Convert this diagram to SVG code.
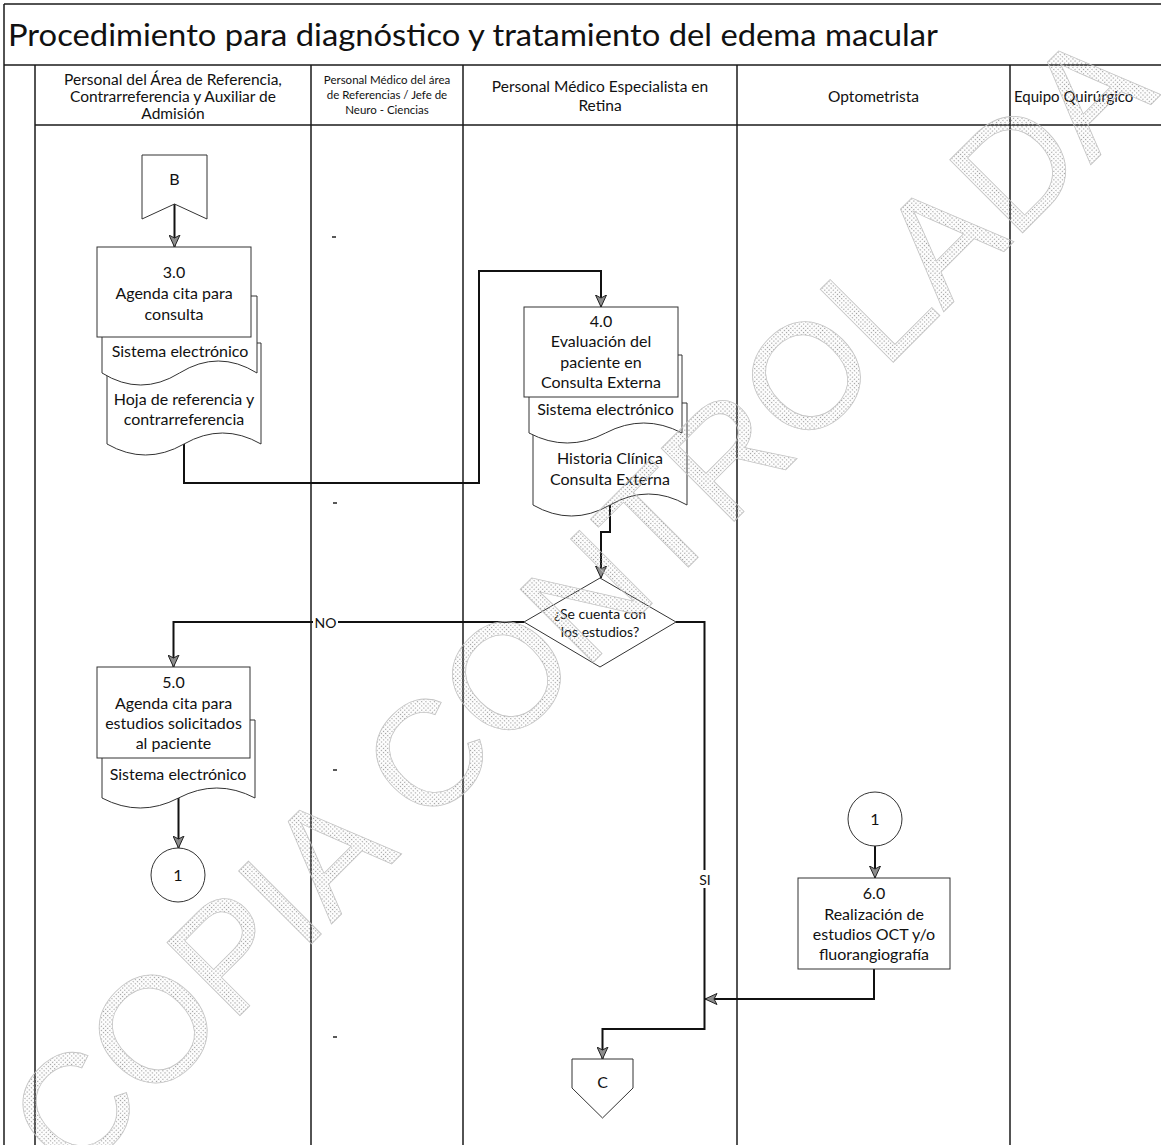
<svg xmlns="http://www.w3.org/2000/svg" width="1161" height="1145" viewBox="0 0 1161 1145">
<defs>
<marker id="ah" markerUnits="userSpaceOnUse" markerWidth="13" markerHeight="12" viewBox="0 0 13 12" refX="12.5" refY="6" orient="auto">
<path d="M0.5,0.5 L12.5,6 L0.5,11.5 L3.5,6 Z" fill="#8c8c8c" stroke="#222" stroke-width="1"/>
</marker>
<pattern id="dots" width="3" height="3" patternUnits="userSpaceOnUse"><rect width="1.2" height="1.2" fill="#9c9c9c"/></pattern>
<style>
.frame{stroke:#1a1a1a;stroke-width:1.5;fill:none}
.lane{stroke:#1a1a1a;stroke-width:1.5;fill:none}
.shape{fill:#fff;stroke:#333;stroke-width:1}
.conn{fill:none;stroke:#111;stroke-width:2}
.arr{marker-end:url(#ah)}
text{font-family:Lato,"Open Sans","Liberation Sans",sans-serif;fill:#111}
.t{font-size:16px;text-anchor:middle}
.h{font-size:15.5px;text-anchor:middle}
.hs{font-size:11.5px;text-anchor:middle}
.lbl{font-size:14px;text-anchor:middle}
.tick{stroke:#222;stroke-width:1.5}
.wm{font-family:"Liberation Sans",sans-serif;font-size:150px;text-anchor:middle;fill:url(#dots);stroke:#c4c4c4;stroke-width:0.8}
</style>
</defs>
<rect width="1161" height="1145" fill="#fff"/>

<g id="frame">
<line class="frame" x1="4" y1="4" x2="1161" y2="4"/>
<line class="frame" x1="4" y1="4" x2="4" y2="1145"/>
<line class="frame" x1="4" y1="65" x2="1161" y2="65"/>
<line class="frame" x1="35" y1="125" x2="1161" y2="125"/>
<line class="lane" x1="35" y1="65" x2="35" y2="1145"/>
<line class="lane" x1="311" y1="65" x2="311" y2="1145"/>
<line class="lane" x1="463" y1="65" x2="463" y2="1145"/>
<line class="lane" x1="737" y1="65" x2="737" y2="1145"/>
<line class="lane" x1="1010" y1="65" x2="1010" y2="1145"/>
<text x="8" y="46" font-size="30" textLength="930" lengthAdjust="spacingAndGlyphs">Procedimiento para diagnóstico y tratamiento del edema macular</text>
</g>

<g id="headers">
<text class="h" x="173" y="85">Personal del Área de Referencia,</text>
<text class="h" x="173" y="102">Contrarreferencia y Auxiliar de</text>
<text class="h" x="173" y="119">Admisión</text>
<text class="hs" x="387" y="84">Personal Médico del área</text>
<text class="hs" x="387" y="99">de Referencias / Jefe de</text>
<text class="hs" x="387" y="114">Neuro - Ciencias</text>
<text class="h" x="600" y="92">Personal Médico Especialista en</text>
<text class="h" x="600" y="111">Retina</text>
<text class="h" x="873.5" y="102">Optometrista</text>
<text x="1014" y="102" font-size="15">Equipo Quirúrgico</text>
</g>

<g id="ticks">
<line class="tick" x1="332" y1="237" x2="336" y2="237"/>
<line class="tick" x1="333" y1="503" x2="337" y2="503"/>
<line class="tick" x1="333" y1="770" x2="337" y2="770"/>
<line class="tick" x1="333" y1="1037" x2="337" y2="1037"/>
</g>

<g id="connectors">
<line class="conn arr" x1="174.5" y1="204" x2="174.5" y2="247"/>
<polyline class="conn arr" points="184,444 184,483 479,483 479,271 601,271 601,307"/>
<polyline class="conn arr" points="610,505 610,532 601,532 601,578"/>
<polyline class="conn arr" points="524,622 173.5,622 173.5,667"/>
<line class="conn arr" x1="178.5" y1="798" x2="178.5" y2="848"/>
<line class="conn arr" x1="875" y1="846" x2="875" y2="878"/>
<polyline class="conn arr" points="874,969 874,999 705,999"/>
<polyline class="conn arr" points="676,622 704.5,622 704.5,1029 602.5,1029 602.5,1059"/>
<rect x="313" y="613" width="25" height="18" fill="#fff"/>
<text class="lbl" x="325.5" y="628">NO</text>
<rect x="697" y="870" width="16" height="18" fill="#fff"/>
<text class="lbl" x="705" y="885">SI</text>
</g>

<g id="node-B">
<path class="shape" d="M142,155 H207 V219 L174.5,204 L142,219 Z"/>
<text class="t" x="174.5" y="185">B</text>
</g>

<g id="node-3">
<path class="shape" d="M107,343 H261 V444 Q222.5,422 184,444 T107,444 Z"/>
<text class="t" x="184" y="405">Hoja de referencia y</text>
<text class="t" x="184" y="425">contrarreferencia</text>
<path class="shape" d="M102,296 H257 V373 Q218.25,349 179.5,373 T102,373 Z"/>
<text class="t" x="180" y="356.5">Sistema electrónico</text>
<rect class="shape" x="97" y="247" width="154" height="90"/>
<text class="t" x="174" y="277.5">3.0</text>
<text class="t" x="174" y="298.5">Agenda cita para</text>
<text class="t" x="174" y="319.5">consulta</text>
</g>

<g id="node-4">
<path class="shape" d="M533,403 H687 V505 Q648.5,483 610,505 T533,505 Z"/>
<text class="t" x="610" y="464">Historia Clínica</text>
<text class="t" x="610" y="485">Consulta Externa</text>
<path class="shape" d="M529,355 H682 V433 Q643.75,413 605.5,433 T529,433 Z"/>
<text class="t" x="605.5" y="415">Sistema electrónico</text>
<rect class="shape" x="524" y="307" width="154" height="90"/>
<text class="t" x="601" y="326.5">4.0</text>
<text class="t" x="601" y="347">Evaluación del</text>
<text class="t" x="601" y="367.5">paciente en</text>
<text class="t" x="601" y="388">Consulta Externa</text>
</g>

<g id="node-decision">
<path class="shape" d="M600,578 L676,622 L600,667 L524,622 Z"/>
<text class="lbl" x="600" y="619">¿Se cuenta con</text>
<text class="lbl" x="600" y="636.5">los estudios?</text>
</g>

<g id="node-5">
<path class="shape" d="M102,720 H255 V798 Q216.75,778 178.5,798 T102,798 Z"/>
<text class="t" x="178" y="780">Sistema electrónico</text>
<rect class="shape" x="97" y="667" width="153" height="91"/>
<text class="t" x="173.5" y="688">5.0</text>
<text class="t" x="173.5" y="708.5">Agenda cita para</text>
<text class="t" x="173.5" y="728.5">estudios solicitados</text>
<text class="t" x="173.5" y="748.5">al paciente</text>
</g>

<g id="node-conn1a">
<circle class="shape" cx="178" cy="875" r="27"/>
<text class="t" x="178" y="880.5">1</text>
</g>

<g id="node-conn1b">
<circle class="shape" cx="875" cy="819" r="27"/>
<text class="t" x="875" y="824.5">1</text>
</g>

<g id="node-6">
<rect class="shape" x="798" y="878" width="152" height="91"/>
<text class="t" x="874" y="899">6.0</text>
<text class="t" x="874" y="920">Realización de</text>
<text class="t" x="874" y="940">estudios OCT y/o</text>
<text class="t" x="874" y="960">fluorangiografía</text>
</g>

<g id="node-C">
<path class="shape" d="M572,1059 H633 V1088 L602.5,1118 L572,1088 Z"/>
<text class="t" x="602.5" y="1088">C</text>
</g>

<g id="watermark">
<text class="wm" x="0" y="52" transform="translate(580,602) rotate(-45)" textLength="1540" lengthAdjust="spacingAndGlyphs">COPIA CONTROLADA</text>
</g>
</svg>
